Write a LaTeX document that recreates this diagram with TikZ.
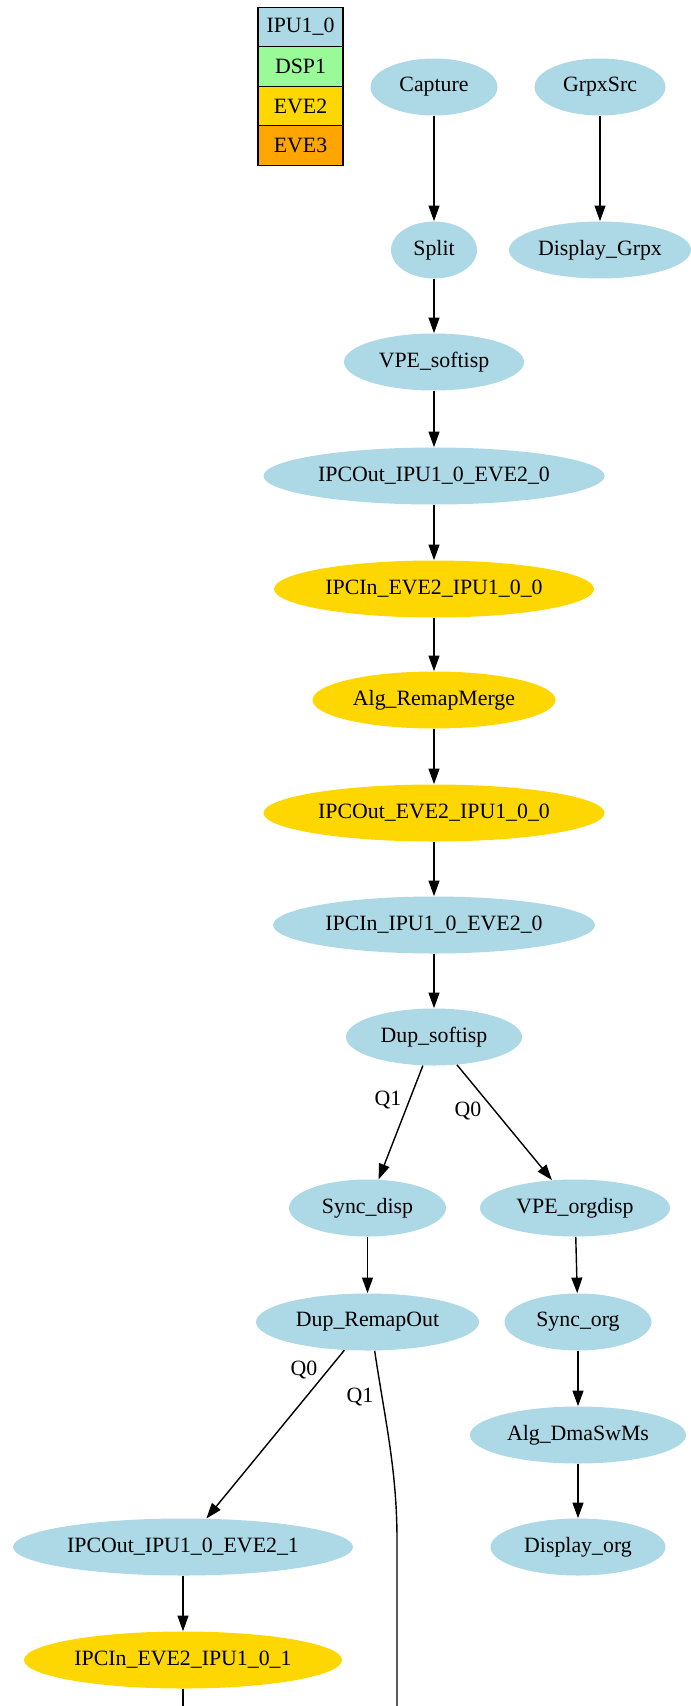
\documentclass[tikz,border=0pt]{standalone}
\usepackage{fontspec}
\setmainfont{Liberation Serif}
\usetikzlibrary{arrows.meta,shapes.geometric}
\definecolor{ipublue}{HTML}{ADD8E6}
\definecolor{dspgreen}{HTML}{98FB98}
\definecolor{evegold}{HTML}{FFD700}
\definecolor{eveorange}{HTML}{FFA500}
\newcommand{\un}{0.641pt}

\begin{document}
\begin{tikzpicture}[x=\un, y=-\un,
    ipu/.style={ellipse, fill=ipublue, minimum height=57*\un, inner sep=0pt, font=\fontsize{14}{16}\selectfont},
    eve/.style={ipu, fill=evegold},
    leg/.style={draw, rectangle, minimum width=85*\un, minimum height=39.5*\un, inner sep=0pt, line width=0.8pt, font=\fontsize{14}{16}\selectfont},
    edge/.style={-{Triangle[length=10pt,width=7pt]}, line width=0.9pt},
    lbl/.style={inner sep=0pt, font=\fontsize{14}{16}\selectfont}]
    \useasboundingbox (0,0) rectangle (691,1706);

    % Legend
    \node[leg, fill=ipublue] (leg-ipu) at (300.5,27) {IPU1\_0};
    \node[leg, fill=dspgreen] (leg-dsp) at (300.5,66.5) {DSP1};
    \node[leg, fill=evegold] (leg-eve2) at (300.5,106) {EVE2};
    \node[leg, fill=eveorange] (leg-eve3) at (300.5,145.5) {EVE3};

    % Main chain
    \node[ipu, minimum width=127*\un] (capture) at (434,87) {Capture};
    \node[ipu, minimum width=131*\un] (grpxsrc) at (600,87) {GrpxSrc};
    \node[ipu, minimum width=86*\un] (split) at (434,250) {Split};
    \node[ipu, minimum width=182*\un] (disp-grpx) at (600,250) {Display\_Grpx};
    \node[ipu, minimum width=180*\un] (vpe-soft) at (434,362) {VPE\_softisp};
    \node[ipu, minimum width=341*\un] (ipcout-0) at (434,476) {IPCOut\_IPU1\_0\_EVE2\_0};
    \node[eve, minimum width=320*\un] (ipcin-0) at (434,589) {IPCIn\_EVE2\_IPU1\_0\_0};
    \node[eve, minimum width=243*\un] (remap) at (434,700) {Alg\_RemapMerge};
    \node[eve, minimum width=341*\un] (ipcout-eve) at (434,813) {IPCOut\_EVE2\_IPU1\_0\_0};
    \node[ipu, minimum width=322*\un] (ipcin-ipu) at (434,925) {IPCIn\_IPU1\_0\_EVE2\_0};
    \node[ipu, minimum width=176*\un] (dup-soft) at (434,1037) {Dup\_softisp};

    % Branches
    \node[ipu, minimum width=157*\un] (sync-disp) at (367.5,1208) {Sync\_disp};
    \node[ipu, minimum width=190*\un] (vpe-org) at (575,1208) {VPE\_orgdisp};
    \node[ipu, minimum width=223*\un] (dup-remap) at (367.5,1322) {Dup\_RemapOut};
    \node[ipu, minimum width=147*\un] (sync-org) at (578,1322) {Sync\_org};
    \node[ipu, minimum width=216*\un] (dmasw) at (578,1435) {Alg\_DmaSwMs};
    \node[ipu, minimum width=175*\un] (disp-org) at (578,1547) {Display\_org};
    \node[ipu, minimum width=340*\un] (ipcout-1) at (183,1547) {IPCOut\_IPU1\_0\_EVE2\_1};
    \node[eve, minimum width=318*\un] (ipcin-1) at (183,1660) {IPCIn\_EVE2\_IPU1\_0\_1};

    \coordinate (end-1) at (183,1706);
    \coordinate (end-2) at (397,1706);

    \draw[edge] (capture) -- (split);
    \draw[edge] (grpxsrc) -- (disp-grpx);
    \draw[edge] (split) -- (vpe-soft);
    \draw[edge] (vpe-soft) -- (ipcout-0);
    \draw[edge] (ipcout-0) -- (ipcin-0);
    \draw[edge] (ipcin-0) -- (remap);
    \draw[edge] (remap) -- (ipcout-eve);
    \draw[edge] (ipcout-eve) -- (ipcin-ipu);
    \draw[edge] (ipcin-ipu) -- (dup-soft);
    \draw[edge] (dup-soft) -- (sync-disp);
    \draw[edge] (dup-soft) -- (vpe-org);
    \draw[edge] (sync-disp) -- (dup-remap);
    \draw[edge] (vpe-org) -- (sync-org);
    \draw[edge] (sync-org) -- (dmasw);
    \draw[edge] (dmasw) -- (disp-org);
    \draw[edge] (dup-remap) -- (ipcout-1);
    \draw[edge] (ipcout-1) -- (ipcin-1);
    \draw[line width=0.9pt] (ipcin-1) -- (end-1);
    \draw[line width=0.9pt] (dup-remap.-76) .. controls (385,1420) and (397,1470) .. (397,1540) -- (end-2);

    % Queue labels
    \node[lbl] (q1-a) at (388,1100) {Q1};
    \node[lbl] (q0-a) at (468,1111) {Q0};
    \node[lbl] (q0-b) at (304,1370) {Q0};
    \node[lbl] (q1-b) at (360,1397) {Q1};

\end{tikzpicture}
\end{document}
